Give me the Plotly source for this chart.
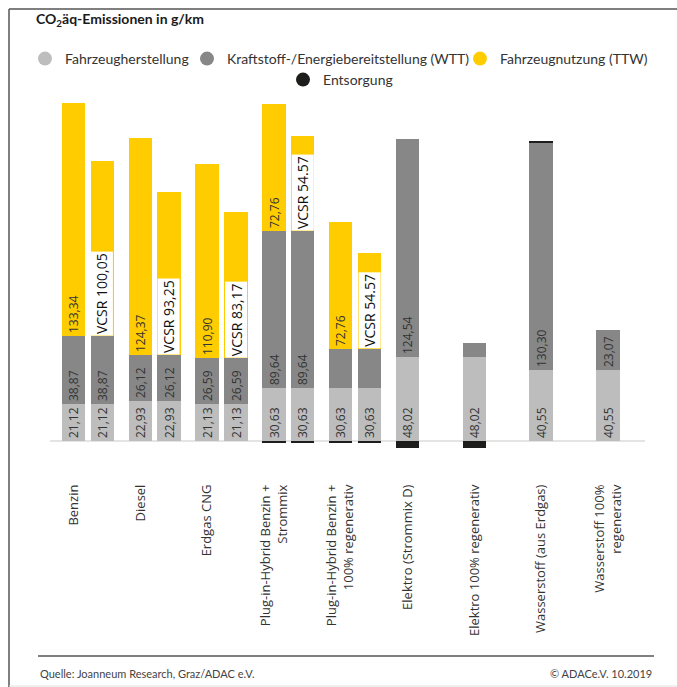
import plotly.graph_objects as go

# ---------------------------------------------------------------- data
categories = [
    "Benzin",
    "Diesel",
    "Erdgas CNG",
    "Plug-in-Hybrid Benzin +<br>Strommix",
    "Plug-in-Hybrid Benzin +<br>100% regenerativ",
    "Elektro (Strommix D)",
    "Elektro 100% regenerativ",
    "Wasserstoff (aus Erdgas)",
    "Wasserstoff 100%<br>regenerativ",
]

# one entry per bar: the category it belongs to and whether it is the VCSR variant
bar_category = [0, 0, 1, 1, 2, 2, 3, 3, 4, 4, 5, 6, 7, 8]
bar_vcsr = [False, True, False, True, False, True, False, True, False, True,
            False, False, False, False]

# g CO2-eq per km
herstellung = [21.12, 21.12, 22.93, 22.93, 21.13, 21.13, 30.63, 30.63, 30.63, 30.63,
               48.02, 48.02, 40.55, 40.55]
wtt = [38.87, 38.87, 26.12, 26.12, 26.59, 26.59, 89.64, 89.64, 22.2, 22.2,
       124.54, 8.4, 130.30, 23.07]
wtt_labelled = [True, True, True, True, True, True, True, True, False, False,
                True, False, True, True]
ttw = [133.34, 100.05, 124.37, 93.25, 110.90, 83.17, 72.76, 54.57, 72.76, 54.57,
       None, None, None, None]
entsorgung = [None, None, None, None, None, None, -1.2, -1.2, -1.2, -1.2,
              -3.8, -3.8, 0.6, None]
# decimal separator used in the VCSR labels (one per bar, None where no VCSR)
vcsr_sep = [None, ",", None, ",", None, ",", None, ".", None, ".",
            None, None, None, None]

series_names = ["Fahrzeugherstellung", "Kraftstoff-/Energiebereitstellung (WTT)",
                "Fahrzeugnutzung (TTW)", "Entsorgung"]

# ---------------------------------------------------------------- styling
C_LIGHT = "#bdbdbd"
C_DARK = "#878787"
C_YELLOW = "#ffcc00"
C_BLACK = "#1d1d1b"
TXT = "#333333"
NUM_FONT = "Open Sans"
COND_FONT = "Lato, sans-serif"

FIG_W, FIG_H = 677, 687
M_L, M_R, M_T, M_B = 50, 32, 95, 237
PLOT_W = FIG_W - M_L - M_R
PLOT_H = FIG_H - M_T - M_B
X_RANGE = [-0.352, 8.555]
Y_RANGE = [-5, 198]
VCSR_OFFSET = 0.43
BAR_W = 0.35

# left edge (px) and vertical centre (px) of each legend entry
LEGEND_SLOTS = [(25, 59), (187, 59), (460, 59), (283, 80)]


def px_x(px):
    return (px - M_L) / PLOT_W


def px_y(py):
    return 1 - (py - M_T) / PLOT_H


def fmt(v, sep=","):
    return f"{v:.2f}".replace(".", sep)


x_pos = [c + (VCSR_OFFSET if v else 0) for c, v in zip(bar_category, bar_vcsr)]

herst_text = [fmt(v) for v in herstellung]
wtt_text = [fmt(v) for v in wtt]
wtt_textpos = ["inside" if show else "none" for show in wtt_labelled]
ttw_text = ["" if v is None else fmt(v) for v in ttw]
ttw_textpos = ["none" if (v is None or vc) else "inside" for v, vc in zip(ttw, bar_vcsr)]

fig = go.Figure()

bar_common = dict(
    x=x_pos, width=BAR_W, showlegend=False, marker_line_width=0, hoverinfo="skip",
)
label_common = dict(
    insidetextanchor="start", textangle=-90,
    constraintext="none", textfont=dict(family=NUM_FONT, size=12, color=TXT),
)
fig.add_trace(go.Bar(y=herstellung, text=herst_text, textposition="inside",
                     marker_color=C_LIGHT, name=series_names[0],
                     **bar_common, **label_common))
fig.add_trace(go.Bar(y=wtt, text=wtt_text, textposition=wtt_textpos,
                     marker_color=C_DARK, name=series_names[1],
                     **bar_common, **label_common))
fig.add_trace(go.Bar(y=ttw, text=ttw_text, textposition=ttw_textpos,
                     marker_color=C_YELLOW, name=series_names[2],
                     **bar_common, **label_common))
fig.add_trace(go.Bar(y=entsorgung, marker_color=C_BLACK, name=series_names[3],
                     textposition="none", **bar_common))

# legend entries drawn as round dots, one legend box per entry
legend_ids = ["legend", "legend2", "legend3", "legend4"]
for name, col, lid in zip(series_names, [C_LIGHT, C_DARK, C_YELLOW, C_BLACK], legend_ids):
    fig.add_trace(go.Scatter(
        x=[None], y=[None], mode="markers", name=name,
        marker=dict(symbol="circle", size=14, color=col), legend=lid,
    ))

# VCSR labels on the yellow segments
annotations = []
for xp, h, w, t, sep in zip(x_pos, herstellung, wtt, ttw, vcsr_sep):
    if sep is None or t is None:
        continue
    annotations.append(dict(
        x=xp, y=h + w, xref="x", yref="y", text=f"VCSR {fmt(t, sep)}",
        textangle=-90, showarrow=False, xanchor="center", yanchor="bottom",
        bgcolor="white", borderpad=1,
        font=dict(family=NUM_FONT, size=14, color="#111111"),
    ))

# title and footer
annotations.append(dict(
    x=px_x(34), y=px_y(19), xref="paper", yref="paper", xanchor="left", yanchor="middle",
    text="<b>CO<sub>2</sub>äq-Emissionen in g/km</b>", showarrow=False,
    font=dict(family=COND_FONT, size=14, color="#1a1a1a"),
))
annotations.append(dict(
    x=px_x(38), y=px_y(673), xref="paper", yref="paper", xanchor="left", yanchor="middle",
    text="Quelle: Joanneum Research, Graz/ADAC e.V.", showarrow=False,
    font=dict(family=COND_FONT, size=11, color="#444444"),
))
annotations.append(dict(
    x=px_x(654), y=px_y(673), xref="paper", yref="paper", xanchor="right", yanchor="middle",
    text="© ADACe.V. 10.2019", showarrow=False,
    font=dict(family=COND_FONT, size=11, color="#444444"),
))

shapes = [
    # outer frame: top and left edge
    dict(type="line", xref="paper", yref="paper", x0=px_x(9), x1=px_x(677),
         y0=px_y(9), y1=px_y(9), line=dict(color="#555555", width=1.5)),
    dict(type="line", xref="paper", yref="paper", x0=px_x(9), x1=px_x(9),
         y0=px_y(9), y1=px_y(687), line=dict(color="#555555", width=1.5)),
    # footer rule
    dict(type="line", xref="paper", yref="paper", x0=px_x(38), x1=px_x(654),
         y0=px_y(656), y1=px_y(656), line=dict(color="#555555", width=1.5)),
    dict(type="line", xref="paper", yref="paper", x0=px_x(9), x1=px_x(677),
         y0=px_y(686), y1=px_y(686), line=dict(color="#e0e0e0", width=1)),
]

legend_common = dict(
    orientation="h", xref="paper", yref="paper", xanchor="left", yanchor="middle",
    bgcolor="rgba(0,0,0,0)", font=dict(family=COND_FONT, size=14, color=TXT),
    itemclick=False, itemdoubleclick=False,
)
legends = {
    lid: dict(x=px_x(lx), y=px_y(ly), **legend_common)
    for lid, (lx, ly) in zip(legend_ids, LEGEND_SLOTS)
}

fig.update_layout(
    width=FIG_W, height=FIG_H,
    margin=dict(l=M_L, r=M_R, t=M_T, b=M_B, autoexpand=False),
    paper_bgcolor="white", plot_bgcolor="white",
    barmode="relative", bargap=0,
    showlegend=True,
    **legends,
    xaxis=dict(
        range=X_RANGE, tickmode="array", tickvals=list(range(len(categories))),
        ticktext=categories, tickangle=-90, ticks="", showgrid=False, zeroline=False,
        showline=False, ticklabelstandoff=31,
        tickfont=dict(family=NUM_FONT, size=13, color=TXT),
    ),
    yaxis=dict(
        range=Y_RANGE, showticklabels=False, showgrid=False, ticks="",
        zeroline=True, zerolinecolor="#e4e4e4", zerolinewidth=2, showline=False,
    ),
    annotations=annotations, shapes=shapes,
)

fig.write_html("out.html")
